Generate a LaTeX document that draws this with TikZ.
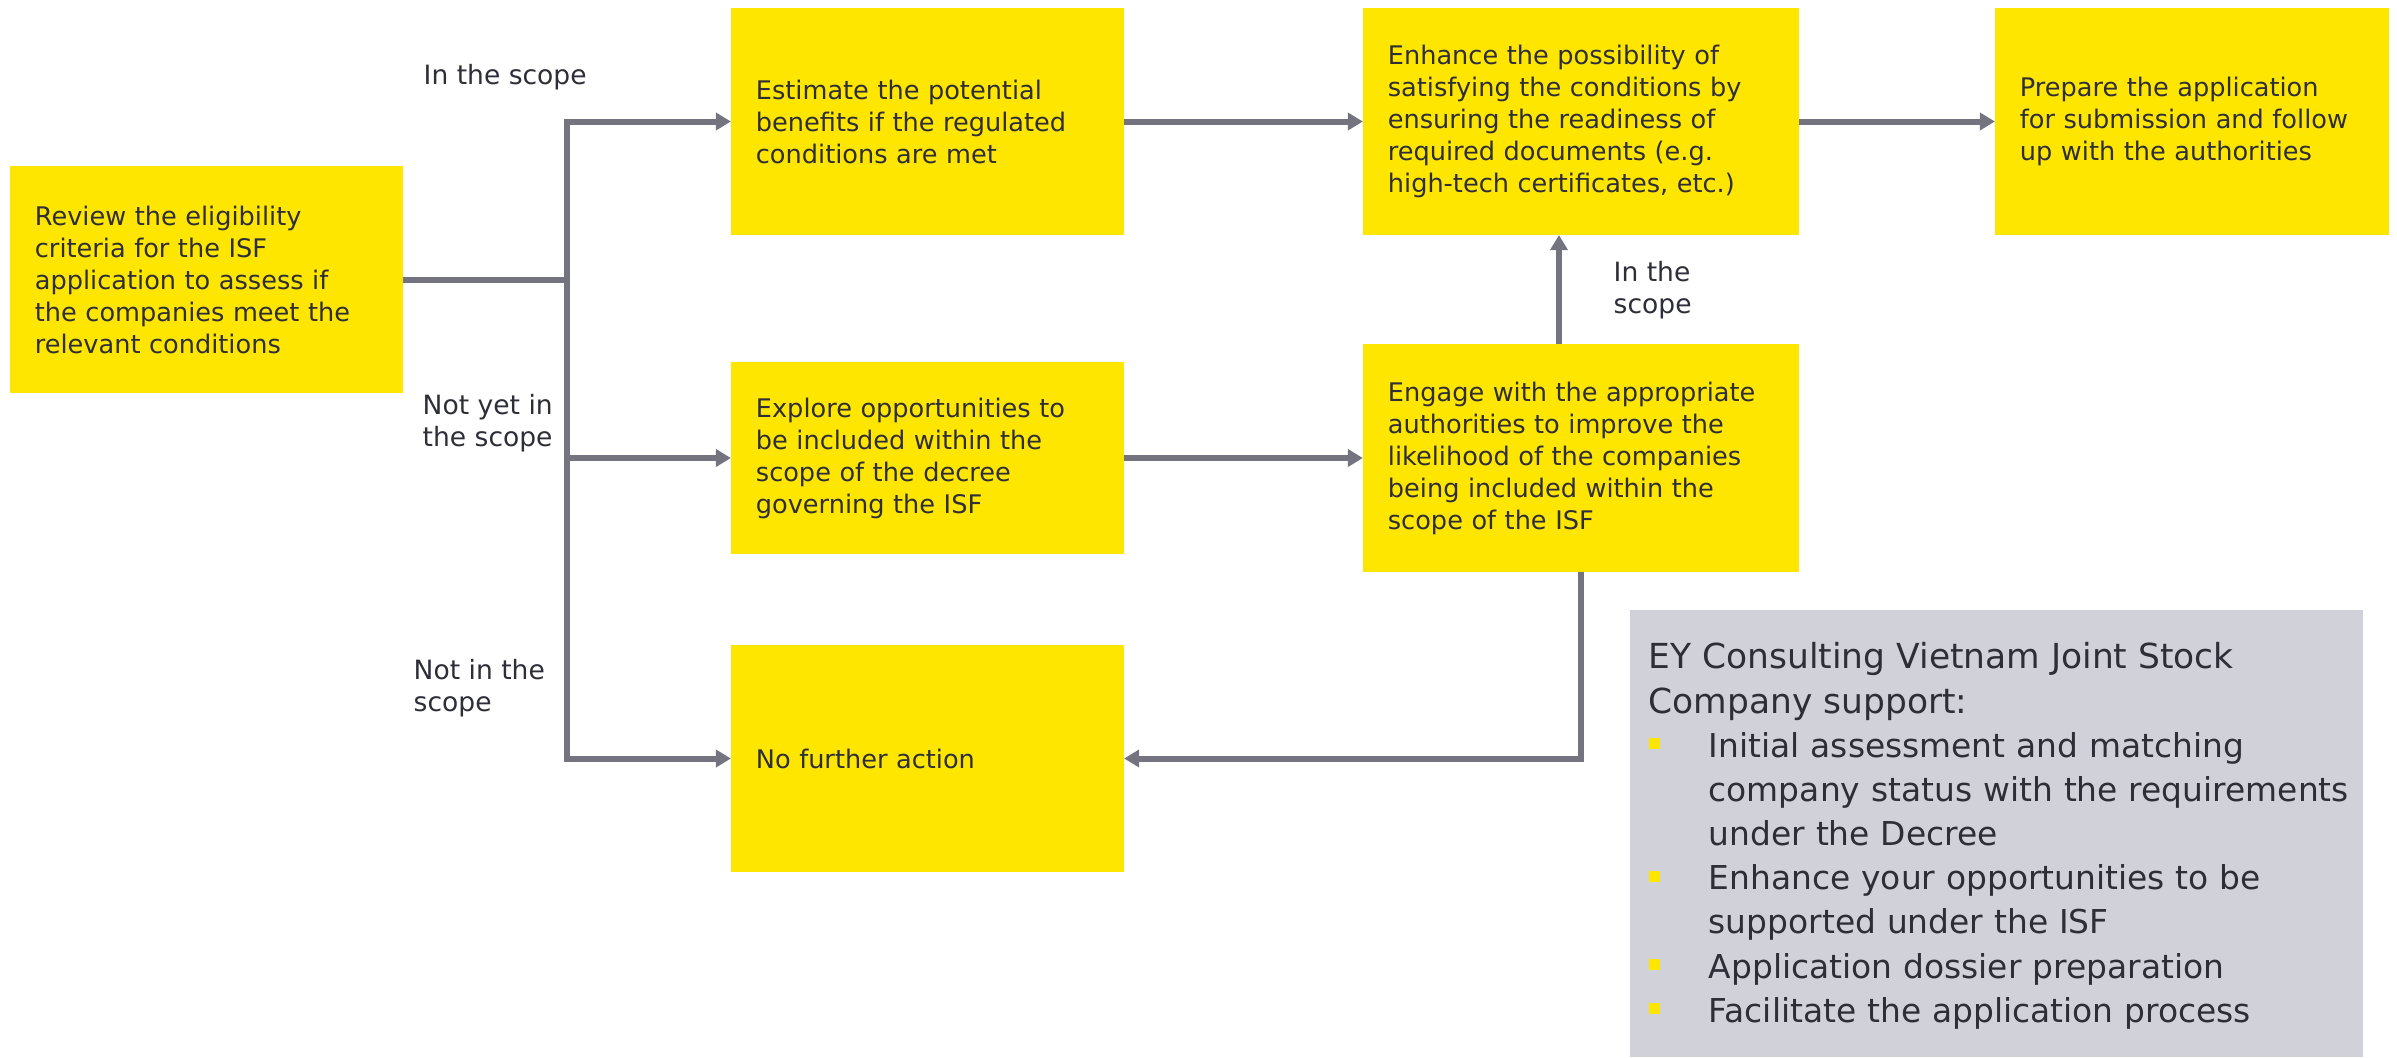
\documentclass[tikz,border=0pt]{standalone}
\usepackage{fontspec}
\setmainfont{DejaVu Sans}
\usetikzlibrary{arrows.meta}

\definecolor{eyyellow}{HTML}{FFE600}
\definecolor{eygrey}{HTML}{747480}
\definecolor{eydark}{HTML}{2E2E38}
\definecolor{eypanel}{HTML}{D1D1D9}

\newcommand{\flowfont}{\fontsize{7.28}{9.1}\selectfont}
\newcommand{\branchfont}{\fontsize{7.55}{8.95}\selectfont}
\newcommand{\panelhead}{\fontsize{9.8}{12.56}\selectfont}
\newcommand{\panelfont}{\fontsize{9.35}{12.56}\selectfont}
\newcommand{\panelitem}{\par\noindent\hangindent=0.6cm\hangafter=1%
  \makebox[0.6cm][l]{\textcolor{eyyellow}{\rule[0.08cm]{0.11cm}{0.11cm}}}}

\begin{document}
\begin{tikzpicture}[
  x=0.01cm, y=-0.01cm,
  task/.style={fill=eyyellow, text=eydark, font=\flowfont, align=left,
    text width=3.43cm, inner xsep=0.25cm, inner ysep=0pt, outer sep=0pt,
    minimum height=2.27cm},
  branch/.style={font=\branchfont, text=eydark, align=left, inner sep=0pt,
    anchor=west},
  link/.style={draw=eygrey, line width=0.06cm},
  flow/.style={link, -{Triangle[width=0.17cm,length=0.15cm]}},
]

\useasboundingbox (0,0) rectangle (2397,1057);

% ============================================================
% PROCESS BOXES
% ============================================================
\node[task] (review) at (206.5,279.5) {%
  Review the eligibility\\criteria for the ISF\\application to assess if\\
  the companies meet the\\relevant conditions};
\node[task] (estimate) at (927.5,121.5) {%
  Estimate the potential\\benefits if the regulated\\conditions are met};
\node[task, minimum height=1.91cm] (explore) at (927.5,458) {%
  Explore opportunities to\\be included within the\\scope of the decree\\
  governing the ISF};
\node[task] (nofurther) at (927.5,758.5) {No further action};
\node[task, text width=3.86cm] (enhance) at (1581,121.5) {%
  Enhance the possibility of\\satisfying the conditions by\\
  ensuring the readiness of\\required documents (e.g.\\
  high-tech certificates, etc.)};
\node[task, text width=3.86cm] (engage) at (1581,458) {%
  Engage with the appropriate\\authorities to improve the\\
  likelihood of the companies\\being included within the\\scope of the ISF};
\node[task, text width=3.44cm] (prepare) at (2192,121.5) {%
  Prepare the application\\for submission and follow\\up with the authorities};

% ============================================================
% BRANCH LABELS
% ============================================================
\node[branch, anchor=base west] (inscope) at (423,84) {In the scope};
\node[branch] (notyet) at (422,423) {Not yet in\\the scope};
\node[branch] (notin) at (413,688) {Not in the\\scope};
\node[branch] (inscopeup) at (1613,290) {In the\\scope};

% ============================================================
% CONNECTORS
% ============================================================
\coordinate (split) at ([xshift=1.64cm]review.east);
\draw[link] (review.east) -- (split);
\draw[flow] (split) |- (estimate.west);
\draw[flow] (split) |- (explore.west);
\draw[flow] (split) |- (nofurther.west);

\draw[flow] (estimate.east) -- (enhance.west);
\draw[flow] (enhance.east) -- (prepare.west);
\draw[flow] (explore.east) -- (engage.west);
\draw[flow] ([xshift=-0.22cm]engage.north) -- ([xshift=-0.22cm]enhance.south);
\draw[flow] (engage.south) |- (nofurther.east);

% ============================================================
% SUPPORT PANEL
% ============================================================
\node[fill=eypanel, minimum width=7.33cm, minimum height=4.47cm,
    inner sep=0pt, outer sep=0pt] (panel) at (1996.5,833.5) {};
\node[anchor=north west, inner sep=0pt, text width=7.15cm, align=left,
    text=eydark, font=\panelfont] (paneltext) at (1648,642) {%
  \noindent{\panelhead EY Consulting Vietnam Joint Stock\newline
  Company support:}
  \panelitem Initial assessment and matching\newline
    company status with the requirements\newline under the Decree
  \panelitem Enhance your opportunities to be\newline supported under the ISF
  \panelitem Application dossier preparation
  \panelitem Facilitate the application process\par};

\end{tikzpicture}
\end{document}
